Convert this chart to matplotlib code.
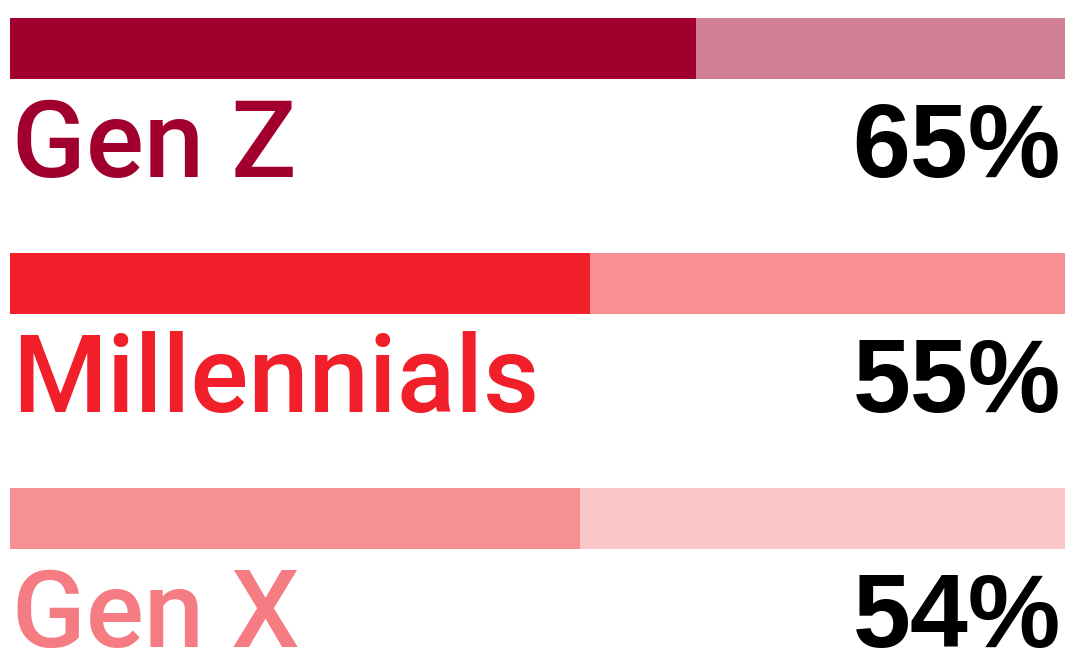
import matplotlib.pyplot as plt

# data
groups = ["Gen Z", "Millennials", "Gen X"]
shares = [65, 55, 54]

# colours per row
FILL = ["#A1002E", "#F01F29", "#F79093"]
REST = ["#D07F95", "#F78F93", "#FAC6C8"]
LABEL = ["#A1002E", "#F01F29", "#F57C82"]

W, H = 1068, 649
ROW = 235  # px between rows
TOP = 48   # px centre of first bar

fig = plt.figure(figsize=(W / 100, H / 100), dpi=100)
ax = fig.add_axes([10 / W, 0, 1055 / W, 1])

ys = list(range(len(groups)))
ax.barh(ys, [100] * len(ys), height=61 / ROW, color=REST, linewidth=0)
ax.barh(ys, shares, height=61 / ROW, color=FILL, linewidth=0)

for y, name, val, c in zip(ys, groups, shares, LABEL):
    base = y + 129 / ROW
    ax.text(0.2, base, name, color=c, fontsize=78, fontfamily="Roboto",
            fontweight=500, ha="left", va="baseline")
    ax.text(99.6, base, f"{val}%", color="black", fontsize=75,
            fontfamily="Liberation Sans", fontweight="bold",
            ha="right", va="baseline")

ax.set_xlim(0, 100)
ax.set_ylim((H - TOP) / ROW, -TOP / ROW)
ax.axis("off")

fig.savefig("out.png", dpi=100)
